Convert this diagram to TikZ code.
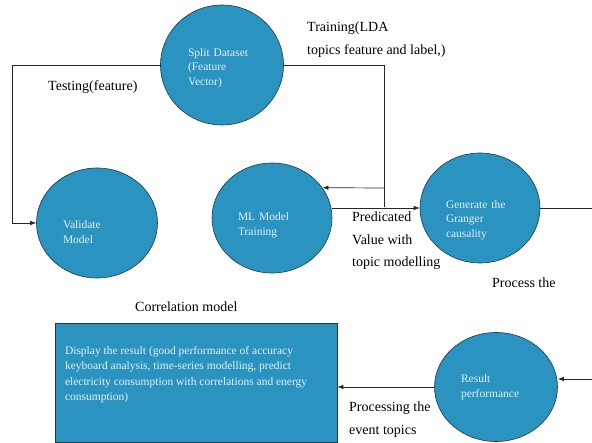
\documentclass[tikz,border=0pt]{standalone}
\usepackage{fontspec}
\setmainfont{Liberation Serif}
\usepackage{xcolor}
\usepackage{tikz}
\usetikzlibrary{shapes.geometric,arrows.meta}
\definecolor{procblue}{RGB}{42,147,192}
\definecolor{procedge}{RGB}{28,58,72}
\definecolor{proctext}{RGB}{226,240,247}

\begin{document}
\begin{tikzpicture}[x=1pt,y=-1pt,
  proc/.style={ellipse, draw=procedge, fill=procblue, line width=0.6pt, inner sep=0pt,
    text=proctext, text width=68pt, align=left, font=\fontsize{11.5}{14.5}\selectfont},
  lbl/.style={inner sep=0pt, align=left, anchor=north west, font=\fontsize{14}{22.5}\selectfont},
  flow/.style={line width=0.7pt, black!85},
  arr/.style={flow, -{Latex[length=6pt,width=4.5pt]}}]
\useasboundingbox (0,0) rectangle (592,443);

% Process nodes
\node[proc, minimum width=123pt, minimum height=120pt, text height=14pt] (split) at (222,65) {Split Dataset\\(Feature\\Vector)};
\node[proc, minimum width=121pt, minimum height=110pt, text height=26pt] (valid) at (97,223) {Validate\\Model};
\node[proc, minimum width=120pt, minimum height=110pt, text height=22pt] (ml) at (272,218) {ML Model\\Training};
\node[proc, minimum width=120pt, minimum height=110pt, text height=32pt] (gen) at (480,208) {Generate the\\Granger\\causality};
\node[proc, minimum width=123pt, minimum height=109pt, text width=70pt] (res) at (496,387) {Result\\performance};

% Result box
\node[draw=procedge, fill=procblue, line width=0.6pt, inner sep=0pt, text=proctext,
  minimum width=282pt, minimum height=119pt, font=\fontsize{11.5}{15.5}\selectfont] (disp) at (196,382.5)
  {\parbox[c][73pt][t]{262pt}{\raggedright Display the result (good performance of accuracy\\
   keyboard analysis, time-series modelling, predict\\
   electricity consumption with correlations and energy\\
   consumption)}};

% Connectors
\coordinate (lcorner) at (12,223);
\draw[arr] (split.west) -| (lcorner) -- (valid.west);
\coordinate (rdrop) at (384,207);
\draw[flow] (split.east) -| (rdrop);
\coordinate (rtap) at (384,188);
\draw[arr] (rtap) -- (ml.31);
\draw[arr] (gen.west -| ml.east) -- (gen.west);
\coordinate (redge) at (592,208);
\draw[flow] (gen.east) -- (redge);
\coordinate (rin) at (592,379);
\draw[arr] (rin) -- (rin -| res.east);
\draw[arr] (res.west) -- (res.west -| disp.east);

% Labels
\node[lbl] (trainlbl) at (307,22) {Training(LDA\\topics feature and label,)};
\node[lbl] (testlbl) at (48,80) {Testing(feature)};
\node[lbl] (predlbl) at (352,212) {Predicated\\Value with\\topic modelling};
\node[lbl] (proclbl) at (492,278) {Process the};
\node[lbl] (corrlbl) at (135,302) {Correlation model};
\node[lbl] (evlbl) at (349,402) {Processing the\\event topics};

\end{tikzpicture}
\end{document}
